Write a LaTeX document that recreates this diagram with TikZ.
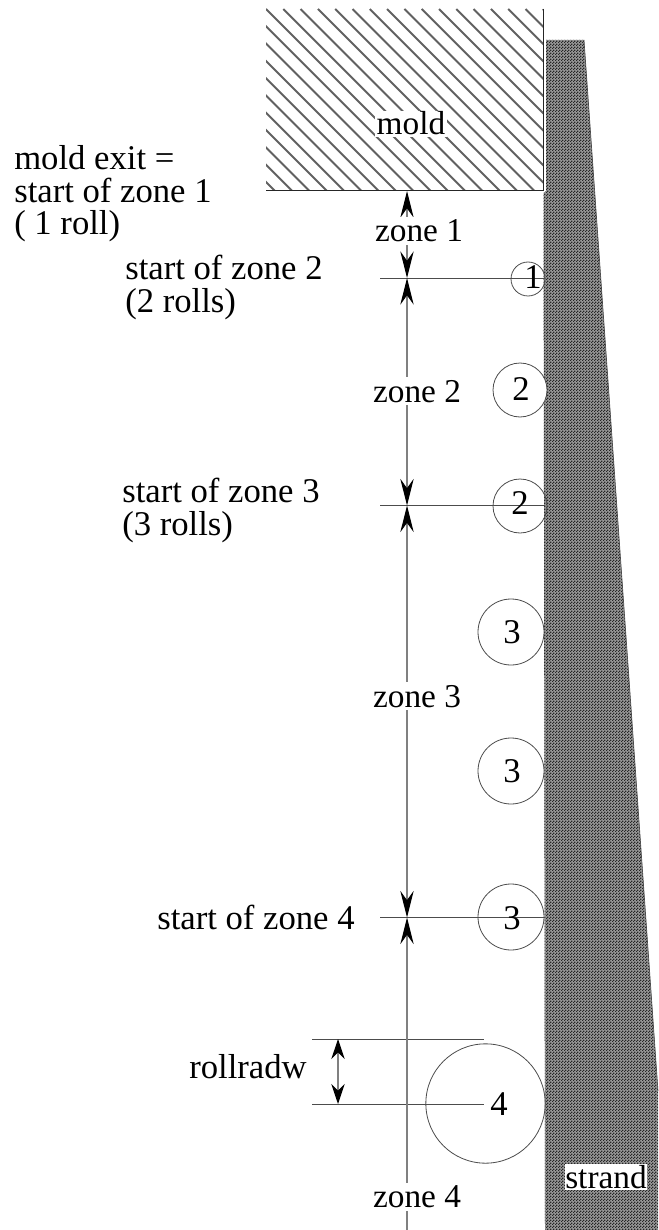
\documentclass[tikz,border=0pt]{standalone}
\usepackage{fontspec}
\setmainfont{Liberation Serif}
\usetikzlibrary{arrows.meta,patterns}
\pgfdeclarepatternformonly{checks}{\pgfqpoint{0pt}{0pt}}{\pgfqpoint{2.25pt}{2.25pt}}{\pgfqpoint{2.25pt}{2.25pt}}{%
  \pgfpathrectangle{\pgfqpoint{0pt}{0pt}}{\pgfqpoint{1.125pt}{1.125pt}}%
  \pgfpathrectangle{\pgfqpoint{1.125pt}{1.125pt}}{\pgfqpoint{1.125pt}{1.125pt}}%
  \pgfusepath{fill}}
\tikzset{
  x=0.75pt,y=-0.75pt,
  txt/.style={font=\fontsize{26}{30}\selectfont},
  lab/.style={txt,inner sep=0pt,anchor=base west},
  zone/.style={font=\fontsize{25}{30}\selectfont,inner sep=2pt,fill=white,anchor=base},
  roll/.style={circle,draw=black!70,line width=0.6pt,inner sep=0pt},
  thin line/.style={draw=black!70,line width=0.7pt},
  tip/.tip={Stealth[length=20pt,width=10pt,inset=7pt,color=black,fill=black]},
  smalltip/.tip={Stealth[length=15pt,width=10pt,inset=5pt,color=black,fill=black]},
  dim/.style={draw=black!50,line width=0.8pt},
  numlab/.style={txt,inner sep=0pt,anchor=base},
}
\begin{document}
\begin{tikzpicture}
\useasboundingbox (0,0) rectangle (658,1230);
% mold hatching
\begin{scope}
  \clip (266,9) rectangle (543,191);
  \foreach \i in {-12,...,18}{
    \draw[black!62,line width=1.45pt] (266+17.3*\i,9) -- ++(182,182);
  }
\end{scope}
\coordinate (mtr) at (543,9);
\coordinate (mbr) at (543,191);
\coordinate (mbl) at (266,191);
\draw[black!85,line width=0.75pt] (mtr) -- (mbr) -- (mbl);
% strand
\path[fill=black!40] (546,40) -- (584,40) -- (658,1091) -- (658,1230) -- (545,1230) -- (544,500) -- (543.5,193) -- (546,191) -- cycle;
\path[pattern=checks,pattern color=black!85] (546,40) -- (584,40) -- (658,1091) -- (658,1230) -- (545,1230) -- (544,500) -- (543.5,193) -- (546,191) -- cycle;
\draw[black!70,line width=0.5pt] (584,40) -- (658,1091);
% rolls
\node[roll,minimum size=25.5pt] (r1) at (528,279) {};
\node[roll,minimum size=40.5pt,fill=white] (r2) at (520,390) {};
\node[roll,minimum size=40.5pt] (r3) at (520,506) {};
\node[roll,minimum size=49.5pt] (r4) at (511,632) {};
\node[roll,minimum size=49.5pt] (r5) at (511,771) {};
\node[roll,minimum size=49.5pt] (r6) at (511,917) {};
\node[roll,minimum size=89.5pt] (r7) at (485.5,1103.5) {};
% horizontal lines
\coordinate (h2a) at (380,278); \coordinate (h2b) at (545,278);
\coordinate (h3a) at (380,505.5); \coordinate (h3b) at (545,505.5);
\coordinate (h4a) at (380,917.5); \coordinate (h4b) at (545,917.5);
\coordinate (ra) at (312,1039); \coordinate (rb) at (484,1039);
\coordinate (sa) at (312,1104); \coordinate (sb) at (484,1104);
\draw[thin line] (h2a) -- (h2b);
\draw[thin line] (h3a) -- (h3b);
\draw[thin line] (h4a) -- (h4b);
\draw[thin line] (ra) -- (rb);
\draw[thin line] (sa) -- (sb);
% dims
\coordinate (z0) at (407,191);
\coordinate (z1) at (407,278);
\coordinate (z2) at (407,505.5);
\coordinate (z3) at (407,917.5);
\coordinate (z4) at (407,1230);
\draw[dim,tip-tip] (z0) -- (z1);
\draw[dim,tip-tip] (z1) -- (z2);
\draw[dim,tip-tip] (z2) -- (z3);
\draw[dim,tip-] (z3) -- (z4);
\coordinate (d1) at (338,1039);
\coordinate (d2) at (338,1104);
\draw[dim,smalltip-smalltip] (d1) -- (d2);
% labels
\node[zone] (zl1) at (419,242) {zone 1};
\node[zone] (zl2) at (417,402) {zone 2};
\node[zone] (zl3) at (417,707) {zone 3};
\node[zone] (zl4) at (417,1207.5) {zone 4};
\node[zone,inner sep=1pt] (ml) at (411,135) {mold};
\node[lab] (a1) at (14,170) {mold exit =};
\node[lab] (a2) at (14,203) {start of zone 1};
\node[lab] (a3) at (14,235) {( 1 roll)};
\node[lab] (b1) at (125,280) {start of zone 2};
\node[lab] (b2) at (125,313) {(2 rolls)};
\node[lab] (c1) at (122,502) {start of zone 3};
\node[lab] (c2) at (122,535) {(3 rolls)};
\node[lab] (d) at (157,929) {start of zone 4};
\node[lab] (e) at (189,1078) {rollradw};
\node[zone,inner xsep=0pt,inner ysep=1pt] (st) at (606,1188) {strand};
\node[numlab] (n1) at (533,289) {1};
\node[numlab] (n2) at (521,400) {2};
\node[numlab] (n3) at (520,514) {2};
\node[numlab] (n4) at (512,643) {3};
\node[numlab] (n5) at (512,782) {3};
\node[numlab] (n6) at (512,929) {3};
\node[numlab] (n7) at (499,1115) {4};
\end{tikzpicture}
\end{document}
